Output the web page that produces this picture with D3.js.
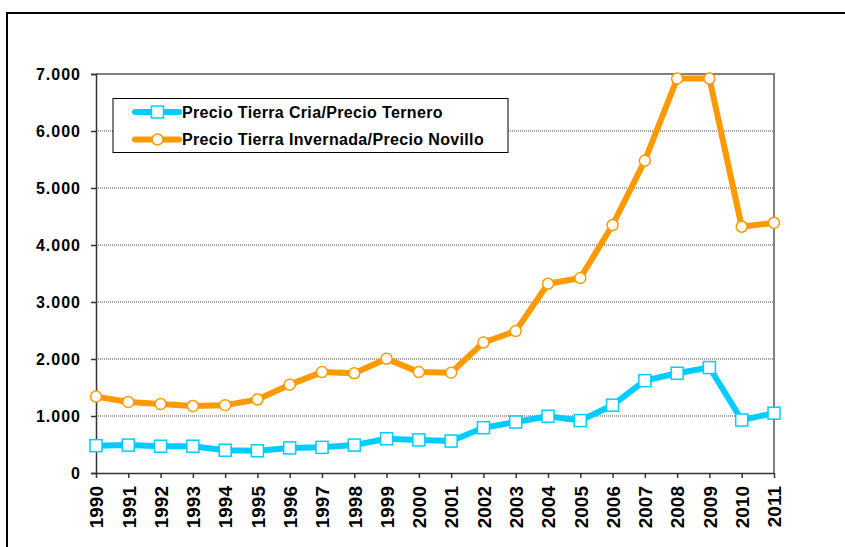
<!DOCTYPE html>
<html>
<head>
<meta charset="utf-8">
<script src="https://cdn.jsdelivr.net/npm/d3@7"></script>
<style>
  body { margin:0; background:#fff; }
  svg { display:block; font-family:"Liberation Sans", Arial, sans-serif; }
</style>
</head>
<body>
<div id="chart"></div>
<script>
var years = [1990,1991,1992,1993,1994,1995,1996,1997,1998,1999,2000,2001,2002,2003,2004,2005,2006,2007,2008,2009,2010,2011];
var criaTernero = [0.48,0.49,0.47,0.47,0.40,0.39,0.44,0.45,0.49,0.60,0.58,0.56,0.795,0.895,0.995,0.92,1.19,1.62,1.75,1.85,0.93,1.05];
var invernadaNovillo = [1.34,1.245,1.21,1.175,1.19,1.29,1.55,1.77,1.75,2.005,1.77,1.76,2.29,2.49,3.32,3.42,4.35,5.48,6.92,6.92,4.32,4.39];
var yTicks = [0,1,2,3,4,5,6,7];

var series = [
  {label:"Precio Tierra Cria/Precio Ternero", values:criaTernero, colour:"#00ccff", marker:"square"},
  {label:"Precio Tierra Invernada/Precio Novillo", values:invernadaNovillo, colour:"#ff9900", marker:"circle"}
];

var W = 845, H = 547;
var plotLeft = 96, plotRight = 774, plotTop = 74, plotBottom = 473;

var svg = d3.select("#chart").append("svg")
  .attr("width", W).attr("height", H);

// outer frame
svg.append("rect")
  .attr("x", 7).attr("y", 13)
  .attr("width", 900).attr("height", 600)
  .attr("fill", "none").attr("stroke", "#000").attr("stroke-width", 2);

var x = d3.scalePoint().domain(years).range([plotLeft, plotRight]);
var y = d3.scaleLinear().domain([0, 7]).range([plotBottom, plotTop]);

// grid lines
svg.append("g").selectAll("line")
  .data(yTicks.filter(function(d) { return d > 0 && d < 7; }))
  .enter().append("line")
  .attr("x1", plotLeft).attr("x2", plotRight)
  .attr("y1", function(d) { return y(d); })
  .attr("y2", function(d) { return y(d); })
  .attr("stroke", "#808080").attr("stroke-width", 1.5)
  .attr("stroke-dasharray", "1,1");

// top and right border of plot area
svg.append("path")
  .attr("d", "M" + plotLeft + "," + plotTop + "H" + plotRight + "V" + plotBottom)
  .attr("fill", "none").attr("stroke", "#808080").attr("stroke-width", 2);

// y axis
var yAxis = svg.append("g")
  .attr("transform", "translate(" + plotLeft + ",0)")
  .call(d3.axisLeft(y).tickValues(yTicks).tickSize(5).tickPadding(10)
    .tickFormat(function(d) { return d == 0 ? "0" : d + ".000"; }));
yAxis.select(".domain").attr("stroke", "#333").attr("stroke-width", 1.5);
yAxis.selectAll(".tick line").attr("stroke", "#333").attr("stroke-width", 1.5);
yAxis.selectAll("text")
  .style("font-size", "16px").style("font-weight", "bold")
  .style("letter-spacing", "1px")
  .attr("fill", "#000");

// x axis
var xAxis = svg.append("g")
  .attr("transform", "translate(0," + plotBottom + ")")
  .call(d3.axisBottom(x).tickSize(5).tickSizeOuter(0));
xAxis.select(".domain").attr("stroke", "#333").attr("stroke-width", 1.5);
xAxis.selectAll(".tick line").attr("stroke", "#333").attr("stroke-width", 1.5);
xAxis.selectAll("text")
  .attr("transform", "rotate(-90)")
  .attr("x", -13).attr("y", 0).attr("dy", "0.36em")
  .style("text-anchor", "end")
  .style("font-size", "19px").style("font-weight", "bold")
  .attr("fill", "#000");

var line = d3.line()
  .x(function(d, i) { return x(years[i]); })
  .y(function(d) { return y(d); });

function drawMarker(g, type, colour, cx, cy) {
  if (type == "square") {
    g.append("rect")
      .attr("x", cx - 6).attr("y", cy - 6)
      .attr("width", 12).attr("height", 12)
      .attr("fill", "#fff").attr("stroke", colour).attr("stroke-width", 1.5);
  } else {
    g.append("circle")
      .attr("cx", cx).attr("cy", cy).attr("r", 5.5)
      .attr("fill", "#fff").attr("stroke", colour).attr("stroke-width", 1.5);
  }
}

series.forEach(function(s) {
  var g = svg.append("g");
  g.append("path")
    .datum(s.values)
    .attr("d", line)
    .attr("fill", "none")
    .attr("stroke", s.colour)
    .attr("stroke-width", 6)
    .attr("stroke-linejoin", "round");
  s.values.forEach(function(v, i) {
    drawMarker(g, s.marker, s.colour, x(years[i]), y(v));
  });
});

// legend
var legend = svg.append("g");
legend.append("rect")
  .attr("x", 113).attr("y", 98.5)
  .attr("width", 395).attr("height", 54)
  .attr("fill", "#fff").attr("stroke", "#000").attr("stroke-width", 1);

series.forEach(function(s, i) {
  var ly = 112 + i * 27.5;
  var g = legend.append("g");
  g.append("line")
    .attr("x1", 135).attr("x2", 179)
    .attr("y1", ly).attr("y2", ly)
    .attr("stroke", s.colour).attr("stroke-width", 6)
    .attr("stroke-linecap", "round");
  drawMarker(g, s.marker, s.colour, 157.5, ly);
  g.append("text")
    .attr("x", 182).attr("y", ly).attr("dy", "0.36em")
    .style("font-size", "16px").style("font-weight", "bold")
    .style("letter-spacing", "0.35px")
    .text(s.label);
});
</script>
</body>
</html>
